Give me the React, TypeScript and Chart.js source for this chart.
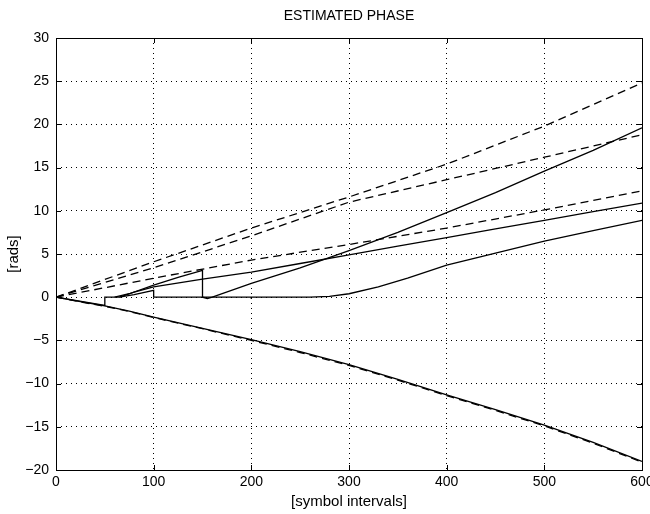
import React, { useEffect, useRef } from "react";
import { Chart, registerables } from "chart.js";

Chart.register(...registerables);

// ---- data ----
const TITLE = "ESTIMATED PHASE";
const X_LABEL = "[symbol intervals]";
const Y_LABEL = "[rads]";

// dashed (true phase) curves
const dashX = [0, 100, 200, 300, 400, 500, 600];
const dash1Y = [0, 4.1, 8.0, 11.6, 15.4, 19.8, 24.8];
const dash2Y = [0, 3.4, 7.1, 11.0, 13.6, 16.2, 18.8];
const dash3Y = [0, 2.2, 4.3, 6.1, 8.0, 10.1, 12.3];

const bottomX = [0, 25, 50, 75, 100, 150, 200, 250, 300, 350, 400, 450, 500, 550, 600];
const dashBottomY = [0, -0.55, -1.05, -1.65, -2.35, -3.65, -5.0, -6.4, -7.9, -9.6, -11.4, -13.1, -14.9, -16.9, -19.1];
const solidBottomY = [0, -0.5, -1.0, -1.6, -2.3, -3.6, -4.9, -6.3, -7.8, -9.5, -11.3, -13.0, -14.8, -16.8, -19.0];

// solid (estimated phase) curves
const estAX = [0, 50, 50, 65, 80, 100, 100, 200, 200, 200, 260, 280, 300, 330, 360, 400, 450, 500, 550, 600];
const estAY = [0, -0.95, 0, 0, 0.3, 0.8, 0, 0, -0.2, 0, 0, 0.1, 0.4, 1.2, 2.2, 3.7, 5.1, 6.5, 7.7, 8.9];

const estBX = [60, 75, 100, 125, 150, 150, 155, 160, 200, 250, 300, 350, 400, 450, 500, 550, 600];
const estBY = [0, 0.4, 1.4, 2.3, 3.1, 0, -0.15, 0, 1.6, 3.4, 5.4, 7.5, 9.8, 12.1, 14.6, 17.0, 19.6];

const estCX = [65, 80, 100, 150, 200, 250, 300, 350, 400, 450, 500, 550, 600];
const estCY = [0, 0.6, 1.2, 2.1, 2.9, 3.9, 4.9, 5.9, 6.9, 7.9, 8.9, 9.9, 10.9];

const X_MIN = 0, X_MAX = 600, X_STEP = 100;
const Y_MIN = -20, Y_MAX = 30, Y_STEP = 5;

const FONT = "'Liberation Sans', Arial, Helvetica, sans-serif";

const pts = (xs: number[], ys: number[]) => xs.map((x, i) => ({ x, y: ys[i] }));

const framePlugin = {
  id: "matlabFrame",
  afterDraw(chart: any) {
    const { ctx, chartArea: a } = chart;
    const xs = chart.scales.x;
    const ys = chart.scales.y;
    ctx.save();
    ctx.strokeStyle = "#000";
    ctx.lineWidth = 1;
    ctx.setLineDash([]);
    ctx.strokeRect(Math.round(a.left) + 0.5, Math.round(a.top) + 0.5, Math.round(a.right - a.left), Math.round(a.bottom - a.top));
    const tl = 5;
    ctx.beginPath();
    xs.ticks.forEach((t: any) => {
      const px = Math.round(xs.getPixelForValue(t.value)) + 0.5;
      ctx.moveTo(px, a.bottom);
      ctx.lineTo(px, a.bottom - tl);
      ctx.moveTo(px, a.top);
      ctx.lineTo(px, a.top + tl);
    });
    ys.ticks.forEach((t: any) => {
      const py = Math.round(ys.getPixelForValue(t.value)) + 0.5;
      ctx.moveTo(a.left, py);
      ctx.lineTo(a.left + tl, py);
      ctx.moveTo(a.right, py);
      ctx.lineTo(a.right - tl, py);
    });
    ctx.stroke();

    ctx.fillStyle = "#000";
    ctx.textAlign = "center";
    ctx.textBaseline = "middle";
    const cx = (a.left + a.right) / 2;
    ctx.font = `14px ${FONT}`;
    ctx.fillText(TITLE, cx, 16);
    ctx.font = `15px ${FONT}`;
    ctx.fillText(X_LABEL, cx, 502);
    ctx.translate(14, (a.top + a.bottom) / 2);
    ctx.rotate(-Math.PI / 2);
    ctx.fillText(Y_LABEL, 0, 0);
    ctx.restore();
  },
};

export default function App() {
  const ref = useRef<HTMLCanvasElement | null>(null);
  useEffect(() => {
    if (!ref.current) return;
    const solid = (xs: number[], ys: number[]) => ({
      data: pts(xs, ys),
      borderColor: "#000",
      borderWidth: 1.3,
      pointRadius: 0,
      fill: false,
      tension: 0,
    });
    const dashed = (xs: number[], ys: number[]) => ({
      ...solid(xs, ys),
      borderDash: [8, 5],
    });
    const chart = new Chart(ref.current, {
      type: "line",
      data: {
        datasets: [
          dashed(dashX, dash1Y),
          dashed(dashX, dash2Y),
          dashed(dashX, dash3Y),
          dashed(bottomX, dashBottomY),
          solid(bottomX, solidBottomY),
          solid(estAX, estAY),
          solid(estBX, estBY),
          solid(estCX, estCY),
        ] as any,
      },
      options: {
        animation: false,
        responsive: false,
        maintainAspectRatio: false,
        layout: { padding: { top: 38, right: 8, left: 0, bottom: 0 } },
        plugins: {
          legend: { display: false },
          title: { display: false },
          tooltip: { enabled: false },
        },
        scales: {
          x: {
            type: "linear",
            min: X_MIN,
            max: X_MAX,
            ticks: {
              stepSize: X_STEP,
              color: "#000",
              font: { family: FONT, size: 14 },
              padding: 4,
              maxRotation: 0,
              autoSkip: false,
            },
            grid: { color: "#000", lineWidth: 1, drawTicks: false },
            border: { display: false, dash: [1, 4] },
            afterFit: (s: any) => {
              s.height = 44;
              s.paddingLeft = 0;
              s.paddingRight = 0;
            },
          },
          y: {
            type: "linear",
            min: Y_MIN,
            max: Y_MAX,
            ticks: {
              stepSize: Y_STEP,
              color: "#000",
              font: { family: FONT, size: 14 },
              padding: 7,
              autoSkip: false,
              callback: (v: any) => (v < 0 ? "\u2212" + Math.abs(v) : String(v)),
            },
            grid: { color: "#000", lineWidth: 1, drawTicks: false },
            border: { display: false, dash: [1, 4] },
            afterFit: (s: any) => {
              s.width = 56;
              s.paddingTop = 0;
              s.paddingBottom = 0;
            },
          },
        },
      } as any,
      plugins: [framePlugin],
    });
    return () => chart.destroy();
  }, []);
  return (
    <div style={{ position: "fixed", left: 0, top: 0, width: 650, height: 514, background: "#fff" }}>
      <canvas ref={ref} width={650} height={514} style={{ display: "block", width: 650, height: 514 }} />
    </div>
  );
}
